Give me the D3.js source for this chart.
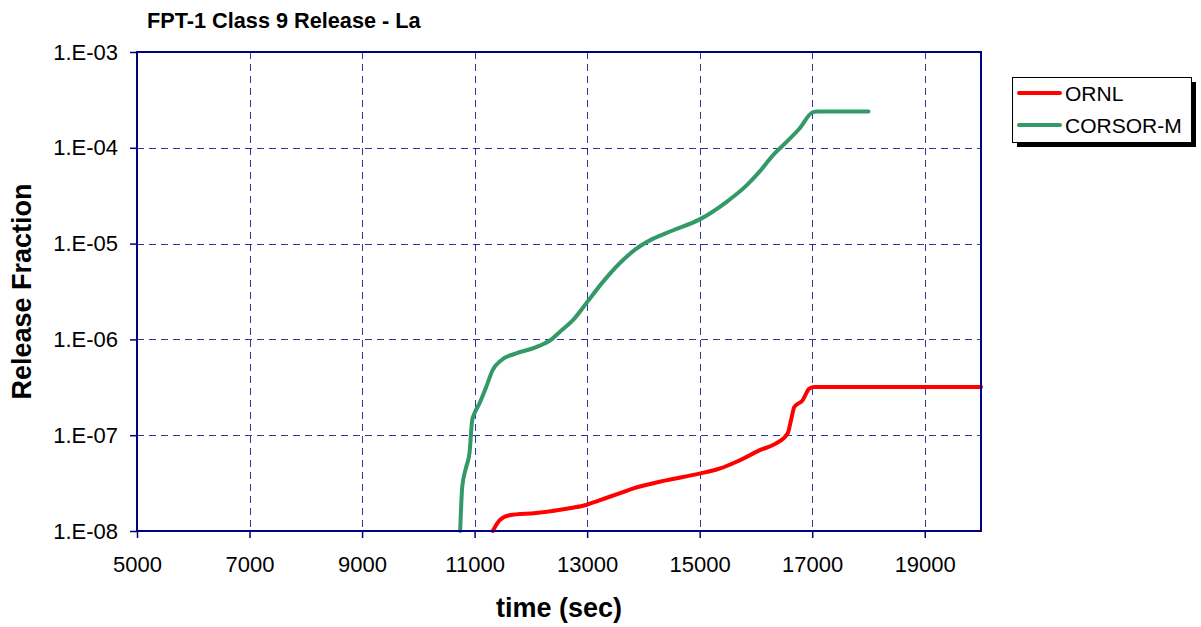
<!DOCTYPE html>
<html>
<head>
<meta charset="utf-8">
<script src="https://cdn.jsdelivr.net/npm/d3@7"></script>
<style>
  body { margin: 0; background: #fff; }
  text { font-family: "Liberation Sans", Arial, sans-serif; }
</style>
</head>
<body>
<div id="chart"></div>
<script>
var width = 1201,
    height = 627,
    margin = {top: 52, left: 137, right: 220, bottom: 96},
    plotW = width - margin.left - margin.right,
    plotH = height - margin.top - margin.bottom;

// values
var ornlTime = [11323, 11442, 11620, 12094, 12686, 12982, 13218, 13574, 13810, 14403, 14995, 15350, 15705, 16060, 16357, 16563, 16623, 16682, 16829, 16948, 17037, 20000];
var ornlFrac = [1.0e-8, 1.29e-8, 1.46e-8, 1.54e-8, 1.73e-8, 1.87e-8, 2.09e-8, 2.47e-8, 2.77e-8, 3.38e-8, 3.97e-8, 4.48e-8, 5.45e-8, 6.95e-8, 8.2e-8, 1.04e-7, 1.43e-7, 1.97e-7, 2.31e-7, 3.06e-7, 3.18e-7, 3.18e-7];

var corsorTime = [10744, 10780, 10851, 10909, 10957, 10998, 11087, 11206, 11318, 11472, 11739, 12094, 12384, 12508, 12744, 13000, 13277, 13574, 13870, 14165, 14520, 15000, 15469, 15824, 16060, 16297, 16535, 16771, 17007, 17090, 18000];
var corsorFrac = [1.0e-8, 2.88e-8, 4.66e-8, 6.5e-8, 1.43e-7, 1.69e-7, 2.15e-7, 3.18e-7, 4.75e-7, 6.04e-7, 7.15e-7, 8.3e-7, 1.02e-6, 1.19e-6, 1.58e-6, 2.45e-6, 3.96e-6, 6.2e-6, 8.8e-6, 1.12e-5, 1.37e-5, 1.79e-5, 2.7e-5, 4.0e-5, 5.6e-5, 8.3e-5, 1.14e-4, 1.58e-4, 2.35e-4, 2.4e-4, 2.4e-4];

var xTicks = [5000, 7000, 9000, 11000, 13000, 15000, 17000, 19000];
var yTicks = [1e-8, 1e-7, 1e-6, 1e-5, 1e-4, 1e-3];

var seriesNames = ["ORNL", "CORSOR-M"];
var seriesColors = ["#ff0000", "#339966"];

var series = [
  ornlTime.map(function(t, i) { return [t, ornlFrac[i]]; }),
  corsorTime.map(function(t, i) { return [t, corsorFrac[i]]; })
];

var x = d3.scaleLinear().domain([5000, 20000]).range([0, plotW]);
var y = d3.scaleLog().domain([1e-8, 1e-3]).range([plotH, 0]);

var fmtY = function(d) {
  return "1.E-" + String(-Math.round(Math.log10(d))).padStart(2, "0");
};

var svg = d3.select("#chart").append("svg")
    .attr("width", width)
    .attr("height", height);

svg.append("text")
    .attr("x", 147)
    .attr("y", 28)
    .style("font-size", "21.7px")
    .style("font-weight", "bold")
    .text("FPT-1 Class 9 Release - La");

var g = svg.append("g")
    .attr("transform", `translate(${margin.left},${margin.top})`);

// grid
g.selectAll(".vgrid")
    .data(xTicks.slice(1))
  .enter().append("line")
    .attr("x1", function(d) { return Math.round(x(d)) + 0.5; })
    .attr("x2", function(d) { return Math.round(x(d)) + 0.5; })
    .attr("y1", 0).attr("y2", plotH)
    .attr("stroke", "#000080").attr("stroke-opacity", 0.8)
    .attr("stroke-dasharray", "7,5");

g.selectAll(".hgrid")
    .data(yTicks.slice(1, -1))
  .enter().append("line")
    .attr("y1", function(d) { return Math.round(y(d)) + 0.5; })
    .attr("y2", function(d) { return Math.round(y(d)) + 0.5; })
    .attr("x1", 0).attr("x2", plotW)
    .attr("stroke", "#000080").attr("stroke-opacity", 0.8)
    .attr("stroke-dasharray", "7,5");

// lines
var line = d3.line()
    .x(function(d) { return x(d[0]); })
    .y(function(d) { return y(d[1]); })
    .curve(d3.curveMonotoneX);

g.selectAll(".series")
    .data(series)
  .enter().append("path")
    .attr("d", line)
    .attr("fill", "none")
    .attr("stroke", function(d, i) { return seriesColors[i]; })
    .attr("stroke-width", 4)
    .attr("stroke-linejoin", "round")
    .attr("stroke-linecap", "round");

// axes
var xAxis = g.append("g")
    .attr("transform", `translate(0,${plotH})`)
    .call(d3.axisBottom(x).tickValues(xTicks).tickSize(7).tickPadding(18).tickFormat(d3.format("d")));

var yAxis = g.append("g")
    .call(d3.axisLeft(y).tickValues(yTicks).tickSize(7).tickPadding(12).tickFormat(fmtY));

[xAxis, yAxis].forEach(function(a) {
  a.select(".domain").remove();
  a.selectAll("line").attr("stroke", "#000080").attr("stroke-width", 1.5);
  a.selectAll("text")
      .attr("fill", "#000")
      .style("font-size", "22px")
      .style("font-family", "\"Liberation Sans\", Arial, sans-serif");
});

// frame
g.append("rect")
    .attr("width", plotW).attr("height", plotH)
    .attr("fill", "none")
    .attr("stroke", "#000080")
    .attr("stroke-width", 2);

// axis titles
svg.append("text")
    .attr("x", margin.left + plotW / 2)
    .attr("y", 617)
    .attr("text-anchor", "middle")
    .style("font-size", "27px")
    .style("font-weight", "bold")
    .text("time (sec)");

svg.append("text")
    .attr("transform", `translate(31,${margin.top + plotH / 2}) rotate(-90)`)
    .attr("text-anchor", "middle")
    .style("font-size", "27px")
    .style("font-weight", "bold")
    .text("Release Fraction");

// legend
var lg = svg.append("g").attr("transform", "translate(1012,77)");
lg.append("rect")
    .attr("x", 5).attr("y", 5).attr("width", 179).attr("height", 65)
    .attr("fill", "#000");
lg.append("rect")
    .attr("x", 0.5).attr("y", 0.5).attr("width", 179).attr("height", 65)
    .attr("fill", "#fff").attr("stroke", "#000").attr("stroke-width", 1);

var items = lg.selectAll(".item")
    .data(seriesNames)
  .enter().append("g")
    .attr("transform", function(d, i) { return `translate(0,${16 + i * 32})`; });

items.append("line")
    .attr("x1", 7).attr("x2", 48)
    .attr("stroke", function(d, i) { return seriesColors[i]; })
    .attr("stroke-width", 4)
    .attr("stroke-linecap", "round");

items.append("text")
    .attr("x", 53)
    .attr("dy", "0.36em")
    .style("font-size", "21px")
    .text(function(d) { return d; });
</script>
</body>
</html>
